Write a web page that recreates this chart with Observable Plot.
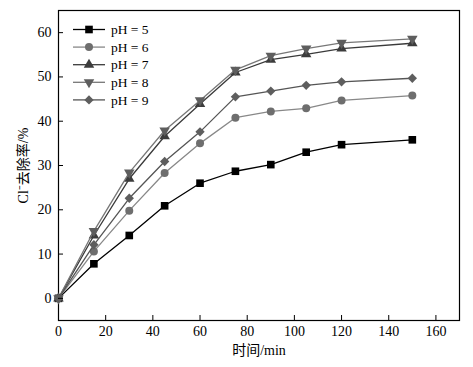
<!DOCTYPE html>
<html>
<head>
<meta charset="utf-8">
<script src="https://cdn.jsdelivr.net/npm/d3@7"></script>
<script src="https://cdn.jsdelivr.net/npm/@observablehq/plot@0.6"></script>
<style>
  body { margin: 0; background: #fff; }
  #chart { position: relative; width: 473px; height: 367px; }
</style>
</head>
<body>
<div id="chart"></div>
<script>
const times = [0, 15, 30, 45, 60, 75, 90, 105, 120, 150];
const pH5 = [0, 7.8, 14.2, 20.9, 26.0, 28.7, 30.2, 33.0, 34.7, 35.8];
const pH6 = [0, 10.6, 19.8, 28.3, 35.0, 40.8, 42.2, 42.9, 44.7, 45.8];
const pH7 = [0, 14.2, 27.0, 36.6, 43.9, 51.0, 53.9, 55.1, 56.4, 57.6];
const pH8 = [0, 15.2, 28.4, 37.9, 44.7, 51.6, 54.8, 56.4, 57.7, 58.6];
const pH9 = [0, 12.1, 22.6, 30.9, 37.6, 45.5, 46.8, 48.1, 48.9, 49.7];
const seriesNames = ["pH = 5", "pH = 6", "pH = 7", "pH = 8", "pH = 9"];
const seriesValues = [pH5, pH6, pH7, pH8, pH9];
const xTicks = [0, 20, 40, 60, 80, 100, 120, 140, 160];
const yTicks = [0, 10, 20, 30, 40, 50, 60];

const styles = [
  {symbol: "square", fill: "#000", stroke: "#000", rotate: 0, r: 4.3},
  {symbol: "circle", fill: "#6e6e6e", stroke: "#888", rotate: 0, r: 4.0},
  {symbol: "triangle", fill: "#3c3c3c", stroke: "#3a3a3a", rotate: 0, r: 3.9},
  {symbol: "triangle", fill: "#5e5e5e", stroke: "#777", rotate: 180, r: 3.9},
  {symbol: "diamond2", fill: "#5e5e5e", stroke: "#555", rotate: 0, r: 4.2}
];

const font = "'Liberation Serif', 'Times New Roman', 'Noto Sans CJK SC', serif";

const marks = [Plot.frame({stroke: "#000", strokeWidth: 1.2})];
seriesValues.forEach((vals, i) => {
  const data = times.map((t, j) => ({t, v: vals[j]}));
  const s = styles[i];
  marks.push(Plot.line(data, {x: "t", y: "v", stroke: s.stroke, strokeWidth: 1.3}));
  marks.push(Plot.dot(data, {x: "t", y: "v", symbol: s.symbol, fill: s.fill, r: s.r, rotate: s.rotate}));
});
marks.push(
  Plot.axisX(xTicks, {tickSize: -5, text: null, label: null}),
  Plot.axisX(xTicks, {tickSize: 0, tickPadding: 6, label: "时间/min", labelAnchor: "center", labelOffset: 34, labelArrow: "none", fontSize: 14}),
  Plot.axisY(yTicks, {tickSize: -5, text: null, label: null}),
  Plot.axisY(yTicks, {tickSize: 0, tickPadding: 7, label: "Cl⁻去除率/%", labelAnchor: "center", labelOffset: 40, labelArrow: "none", fontSize: 14})
);

const plot = Plot.plot({
  width: 473,
  height: 367,
  marginLeft: 58,
  marginRight: 14,
  marginTop: 10,
  marginBottom: 47,
  style: {fontFamily: font, fontSize: "14px", color: "#000", background: "#fff"},
  x: {domain: [0, 170]},
  y: {domain: [-5, 65]},
  marks
});
document.getElementById("chart").appendChild(plot);

// legend inside the plot area
const svg = d3.select(plot);
const lg = svg.append("g").attr("transform", "translate(73,29.5)");
seriesNames.forEach((name, i) => {
  const s = styles[i];
  const g = lg.append("g").attr("transform", `translate(0,${i * 17.6})`);
  g.append("line").attr("x1", 0).attr("x2", 32).attr("y1", 0).attr("y2", 0)
    .attr("stroke", s.stroke).attr("stroke-width", 1.3);
  const symType = {square: d3.symbolSquare, circle: d3.symbolCircle, triangle: d3.symbolTriangle, diamond2: d3.symbolDiamond2}[s.symbol];
  g.append("path").attr("d", d3.symbol(symType, Math.PI * s.r * s.r)())
    .attr("transform", `translate(16,0) rotate(${s.rotate})`)
    .attr("fill", s.fill);
  g.append("text").attr("x", 38).attr("y", 0).attr("dy", "0.35em")
    .attr("text-anchor", "start")
    .attr("font-size", 13.5).attr("font-family", font).attr("fill", "#000").text(name);
});
</script>
</body>
</html>
